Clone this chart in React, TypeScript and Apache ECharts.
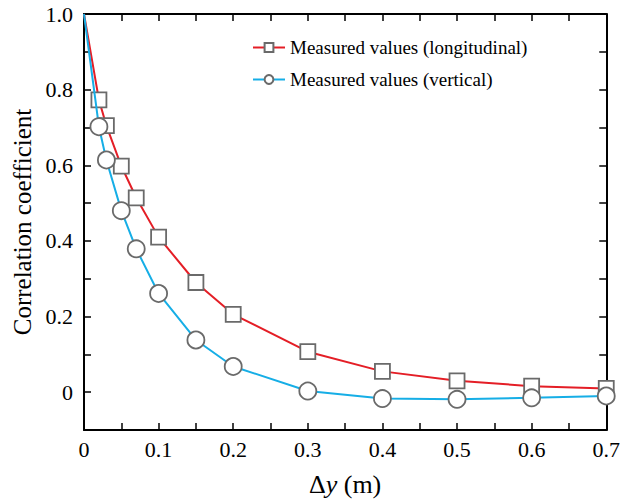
import React, { useEffect, useRef } from "react";
import * as echarts from "echarts";

const xValues = [0, 0.02, 0.03, 0.05, 0.07, 0.1, 0.15, 0.2, 0.3, 0.4, 0.5, 0.6, 0.7];
const longitudinal = [1.0, 0.773, 0.705, 0.598, 0.514, 0.41, 0.29, 0.206, 0.107, 0.055, 0.03, 0.016, 0.01];
const vertical = [1.0, 0.702, 0.614, 0.48, 0.379, 0.261, 0.138, 0.068, 0.003, -0.017, -0.019, -0.015, -0.01];
const seriesNames = ["Measured values (longitudinal)", "Measured values (vertical)"];

const FONT = "Liberation Serif";

export default function App() {
  const ref = useRef<HTMLDivElement>(null);
  useEffect(() => {
    if (!ref.current) return;
    const chart = echarts.init(ref.current, null, { renderer: "svg" });
    const tickStyle = { show: true, inside: true, length: 7, lineStyle: { color: "#000", width: 1.5 } };
    const lineStyleAxis = { show: true, onZero: false, lineStyle: { color: "#000", width: 2 } };
    const yFmt = (v: number) => {
      const k = Math.round(v * 10);
      if (k < 0 || k % 2 !== 0) return "";
      return k === 0 ? "0" : (k / 10).toFixed(1);
    };
    const xFmt = (v: number) => {
      const k = Math.round(v * 20);
      if (k % 2 !== 0) return "";
      return k === 0 ? "0" : (k / 20).toFixed(1);
    };
    const toData = (vals: number[]) =>
      xValues.map((x, i) => (i === 0 ? { value: [x, vals[i]], symbol: "none" } : [x, vals[i]]));
    chart.setOption({
      animation: false,
      backgroundColor: "#fff",
      grid: { left: 84, right: 10, top: 14, bottom: 67 },
      legend: {
        orient: "vertical",
        left: 252,
        top: 38,
        padding: 0,
        itemWidth: 32,
        itemHeight: 11,
        itemGap: 13,
        data: seriesNames,
        textStyle: { fontFamily: FONT, fontSize: 19, color: "#000" },
      },
      xAxis: [
        {
          type: "value",
          min: 0,
          max: 0.7,
          interval: 0.05,
          axisLine: lineStyleAxis,
          axisTick: tickStyle,
          splitLine: { show: false },
          axisLabel: { formatter: xFmt, fontFamily: FONT, fontSize: 22, color: "#000", margin: 8 },
          name: "{d|Δ}{i|y}{d| (m)}",
          nameLocation: "middle",
          nameGap: 41,
          nameTextStyle: {
            fontFamily: FONT,
            fontSize: 26,
            rich: {
              d: { fontFamily: FONT, fontSize: 26, color: "#000" },
              i: { fontFamily: FONT, fontSize: 26, fontStyle: "italic", color: "#000" },
            },
          },
        },
        {
          type: "value",
          position: "top",
          min: 0,
          max: 0.7,
          interval: 0.05,
          axisLine: lineStyleAxis,
          axisTick: tickStyle,
          splitLine: { show: false },
          axisLabel: { show: false },
        },
      ],
      yAxis: [
        {
          type: "value",
          min: -0.1,
          max: 1.0,
          interval: 0.1,
          axisLine: lineStyleAxis,
          axisTick: tickStyle,
          splitLine: { show: false },
          axisLabel: { formatter: yFmt, fontFamily: FONT, fontSize: 22, color: "#000", margin: 11 },
          name: "Correlation coefficient",
          nameLocation: "middle",
          nameGap: 49,
          nameTextStyle: { fontFamily: FONT, fontSize: 25, color: "#000" },
        },
        {
          type: "value",
          position: "right",
          min: -0.1,
          max: 1.0,
          interval: 0.1,
          axisLine: lineStyleAxis,
          axisTick: tickStyle,
          splitLine: { show: false },
          axisLabel: { show: false },
        },
      ],
      series: [
        {
          name: seriesNames[0],
          type: "line",
          data: toData(longitudinal),
          symbol: "rect",
          symbolSize: 15,
          clip: false,
          lineStyle: { color: "#e41e26", width: 2 },
          itemStyle: { color: "#fff", borderColor: "#6a6a6a", borderWidth: 1.8 },
          z: 3,
        },
        {
          name: seriesNames[1],
          type: "line",
          data: toData(vertical),
          symbol: "circle",
          symbolSize: 17,
          clip: false,
          lineStyle: { color: "#16aee6", width: 2 },
          itemStyle: { color: "#fff", borderColor: "#6a6a6a", borderWidth: 1.8 },
          z: 4,
        },
      ],
    });
    return () => chart.dispose();
  }, []);
  return <div ref={ref} style={{ width: 623, height: 502, position: "absolute", left: 0, top: 0 }} />;
}
